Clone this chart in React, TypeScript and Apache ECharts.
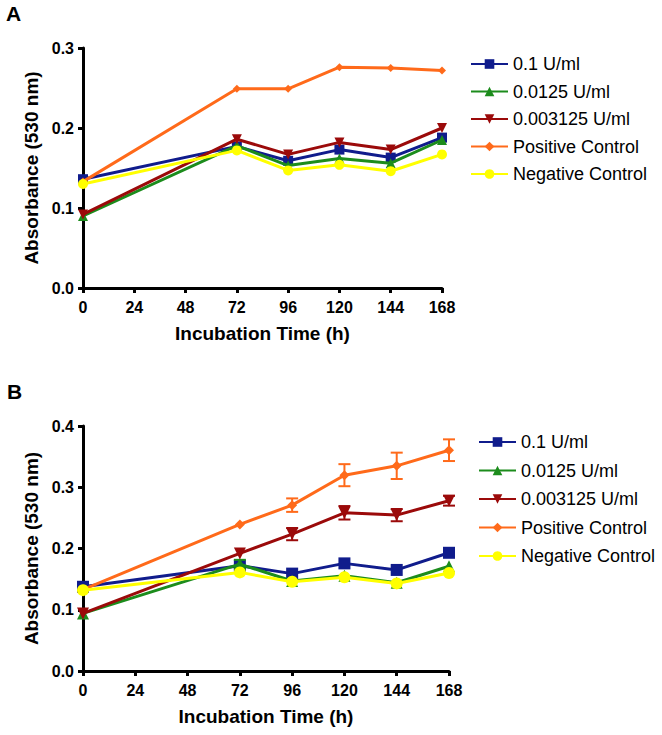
import React, { useEffect, useRef } from "react";
import * as echarts from "echarts";

const times = [0, 72, 96, 120, 144, 168];
const seriesNames = ["0.1 U/ml", "0.0125 U/ml", "0.003125 U/ml", "Positive Control", "Negative Control"];
const colors = ["#101c8c", "#1c8c1c", "#9b0a0a", "#ff6a1a", "#ffff00"];
const symbols = ["rect", "triangle", "path://M0,0 L10,0 L5,10 Z", "diamond", "circle"];
const xTicks = [0, 24, 48, 72, 96, 120, 144, 168];

// Panel A values
const aBlue = [0.136, 0.177, 0.159, 0.173, 0.163, 0.188];
const aGreen = [0.09, 0.178, 0.153, 0.162, 0.156, 0.185];
const aRed = [0.092, 0.186, 0.167, 0.182, 0.173, 0.2];
const aOrange = [0.133, 0.249, 0.249, 0.276, 0.275, 0.272];
const aYellow = [0.13, 0.172, 0.147, 0.154, 0.146, 0.167];

// Panel B values
const bBlue = [0.1375, 0.172, 0.159, 0.1757, 0.165, 0.193];
const bGreen = [0.094, 0.1745, 0.147, 0.1555, 0.144, 0.171];
const bRed = [0.094, 0.192, 0.2235, 0.2583, 0.2545, 0.278];
const bOrange = [0.133, 0.2393, 0.2708, 0.3197, 0.335, 0.3605];
const bYellow = [0.132, 0.161, 0.1457, 0.153, 0.143, 0.16];

// Panel B error (± SD) values
const bGreenErr = [0, 0.007, 0, 0, 0, 0];
const bRedErr = [0, 0, 0.01, 0.011, 0.01, 0.008];
const bOrangeErr = [0, 0, 0.011, 0.018, 0.0215, 0.0177];

const aData = [aBlue, aGreen, aRed, aOrange, aYellow];
const bData = [bBlue, bGreen, bRed, bOrange, bYellow];

const FONT = "'Liberation Sans', Arial, sans-serif";

function errRows(vals: number[], errs: number[]) {
  const rows: number[][] = [];
  times.forEach((t, i) => {
    if (errs[i] > 0) rows.push([t, vals[i] - errs[i], vals[i] + errs[i]]);
  });
  return rows;
}

export default function App() {
  const ref = useRef<HTMLDivElement>(null);
  useEffect(() => {
    if (!ref.current) return;
    const chart = echarts.init(ref.current, null, { renderer: "svg" });

    const axisLine = { show: true, onZero: false, lineStyle: { color: "#000", width: 3 } };
    const axisTick = { show: true, length: 5, lineStyle: { color: "#000", width: 3 } };
    const axisLabelX = {
      color: "#000", fontWeight: "bold", fontSize: 16, fontFamily: FONT, margin: 11,
      customValues: xTicks,
    };
    const axisLabelY = {
      color: "#000", fontWeight: "bold", fontSize: 16, fontFamily: FONT, margin: 9,
      formatter: (v: number) => v.toFixed(1),
    };
    const nameStyle = { color: "#000", fontWeight: "bold", fontSize: 19, fontFamily: FONT };

    const mkX = (gridIndex: number) => ({
      type: "value", gridIndex, min: 0, max: 168, interval: 24,
      axisLine, axisTick, axisLabel: axisLabelX, splitLine: { show: false },
      name: "Incubation Time (h)", nameLocation: "middle", nameGap: 36, nameTextStyle: nameStyle,
    });
    const mkY = (gridIndex: number, max: number) => ({
      type: "value", gridIndex, min: 0, max, interval: 0.1,
      axisLine, axisTick, axisLabel: axisLabelY, splitLine: { show: false },
      name: "Absorbance (530 nm)", nameLocation: "middle", nameGap: 42, nameTextStyle: nameStyle,
    });

    const lineSeries = (data: number[][], gi: number, size: number) =>
      data.map((vals, k) => ({
        type: "line", name: seriesNames[k], xAxisIndex: gi, yAxisIndex: gi,
        data: times.map((t, i) => [t, vals[i]]),
        symbol: symbols[k], symbolSize: k === 3 ? size - 2 : size,
        lineStyle: { color: colors[k], width: 3 },
        itemStyle: { color: colors[k] },
        z: 3 + k,
      }));

    const errSeries = (vals: number[], errs: number[], k: number) => ({
      type: "custom", xAxisIndex: 1, yAxisIndex: 1, z: 3 + k,
      data: errRows(vals, errs),
      encode: { x: 0, y: [1, 2] },
      renderItem: (params: any, api: any) => {
        const x = api.value(0);
        const lo = api.coord([x, api.value(1)]);
        const hi = api.coord([x, api.value(2)]);
        const w = 6;
        const st = { stroke: colors[k], lineWidth: 2 };
        return {
          type: "group",
          children: [
            { type: "line", shape: { x1: lo[0], y1: lo[1], x2: hi[0], y2: hi[1] }, style: st },
            { type: "line", shape: { x1: lo[0] - w, y1: lo[1], x2: lo[0] + w, y2: lo[1] }, style: st },
            { type: "line", shape: { x1: hi[0] - w, y1: hi[1], x2: hi[0] + w, y2: hi[1] }, style: st },
          ],
        };
      },
    });

    const legendCommon = {
      orient: "vertical", data: seriesNames, itemWidth: 37, itemHeight: 12,
      textStyle: { color: "#000", fontSize: 18, fontFamily: FONT },
      selectedMode: false,
    };

    chart.setOption({
      animation: false,
      backgroundColor: "#fff",
      grid: [
        { left: 83, top: 48, width: 359, height: 240 },
        { left: 83, top: 426, width: 366, height: 245 },
      ],
      xAxis: [mkX(0), mkX(1)],
      yAxis: [mkY(0, 0.3), mkY(1, 0.4)],
      legend: [
        { ...legendCommon, left: 465, top: 50, itemGap: 9.5 },
        { ...legendCommon, left: 473, top: 428, itemGap: 10.5 },
      ],
      graphic: [
        { type: "text", left: 6, top: 3, style: { text: "A", font: `bold 21px ${FONT}`, fill: "#000" } },
        { type: "text", left: 7, top: 381, style: { text: "B", font: `bold 21px ${FONT}`, fill: "#000" } },
      ],
      series: [
        ...lineSeries(aData, 0, 10),
        ...lineSeries(bData, 1, 12),
        errSeries(bGreen, bGreenErr, 1),
        errSeries(bRed, bRedErr, 2),
        errSeries(bOrange, bOrangeErr, 3),
      ],
    });
    return () => chart.dispose();
  }, []);
  return (
    <div
      ref={ref}
      style={{ position: "fixed", left: 0, top: 0, width: 662, height: 735, background: "#fff" }}
    />
  );
}
